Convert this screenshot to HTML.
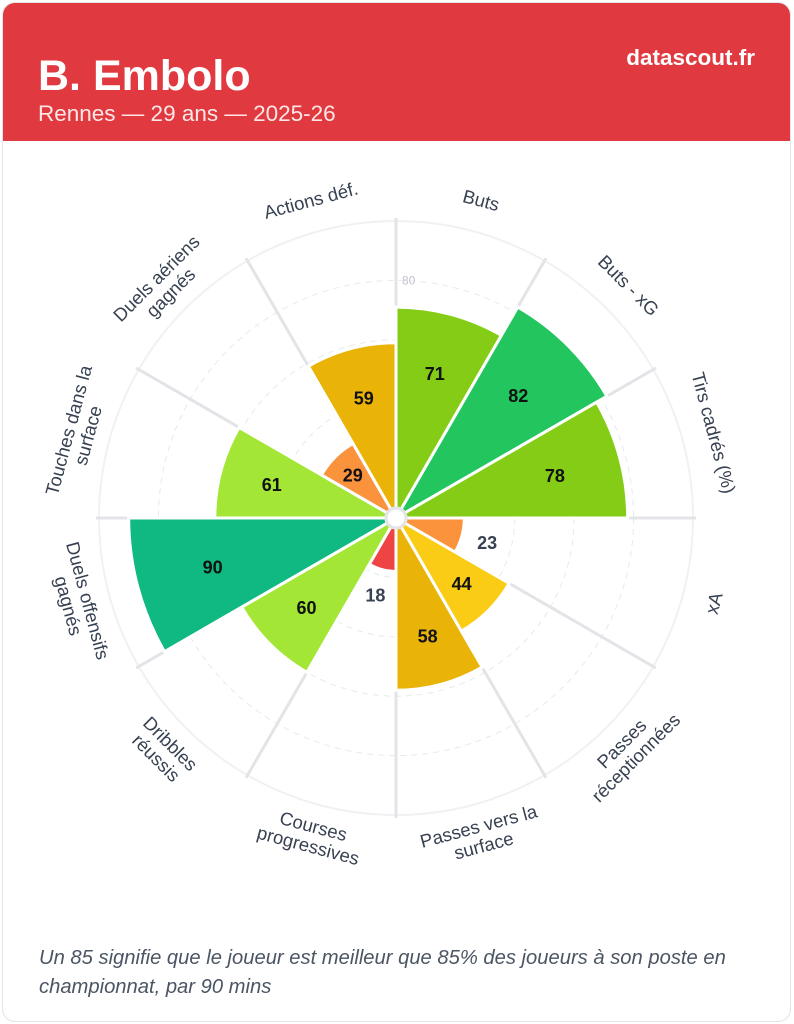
<!DOCTYPE html>
<html><head><meta charset="utf-8">
<style>
html,body{margin:0;padding:0;background:#fff;width:794px;height:1024px;overflow:hidden;font-family:"Liberation Sans",sans-serif;}
.card{position:absolute;left:2px;top:2px;width:787px;height:1018px;border:1px solid #e2e4e8;border-radius:13px;overflow:hidden;background:#fff;}
.header{position:absolute;left:0;top:0;width:100%;height:138px;background:#e0393f;}
.title{position:absolute;left:35px;top:49px;color:#fff;font-size:43px;font-weight:bold;}
.sub{position:absolute;left:35px;top:98px;color:#fde8e8;font-size:22.5px;}
.brand{position:absolute;right:35px;top:42px;color:#fff;font-size:22.5px;font-weight:bold;}
.foot{position:absolute;left:36px;top:941px;width:730px;color:#4b5563;font-size:20.2px;font-style:italic;line-height:29px;}
svg{position:absolute;left:0;top:0;}
</style></head><body>
<div class="card">
<div class="header">
<div class="title">B. Embolo</div>
<div class="sub">Rennes — 29 ans — 2025-26</div>
<div class="brand">datascout.fr</div>
</div>
<div class="foot">Un 85 signifie que le joueur est meilleur que 85% des joueurs à son poste en championnat, par 90 mins</div>
</div>
<svg id="chart" width="794" height="1024"></svg>
<script>
const categories=[["Buts"],["Buts - xG"],["Tirs cadrés (%)"],["xA"],["Passes","réceptionnées"],["Passes vers la","surface"],["Courses","progressives"],["Dribbles","réussis"],["Duels offensifs","gagnés"],["Touches dans la","surface"],["Duels aériens","gagnés"],["Actions déf."]];
const values=[71,82,78,23,44,58,18,60,90,61,29,59];
const gridTicks=[20,40,60,80];
const tickLabels=["","","","80"];

const NS="http://www.w3.org/2000/svg";
const svg=document.getElementById('chart');
const cx=396,cy=518,R=297,inner=10;
const rScale=v=>v/100*R;
function pt(r,deg){const a=(deg-90)*Math.PI/180;return [cx+r*Math.cos(a),cy+r*Math.sin(a)];}
function mk(tag,attrs){const e=document.createElementNS(NS,tag);for(const k in attrs)e.setAttribute(k,attrs[k]);svg.appendChild(e);return e;}
function color(v){if(v<20)return"#ef4444";if(v<40)return"#fb923c";if(v<50)return"#facc15";if(v<60)return"#eab308";if(v<70)return"#a3e635";if(v<80)return"#84cc16";if(v<90)return"#22c55e";return"#10b981";}
const n=categories.length,step=360/n;

let c=mk('circle',{cx:cx,cy:cy,r:R,fill:'none',stroke:'#f0f1f3','stroke-width':2});


gridTicks.forEach((t,i)=>{
  const g=mk('circle',{cx:cx,cy:cy,r:rScale(t),fill:'none',stroke:'#e8e9ec','stroke-width':1,'stroke-dasharray':'6,5'});
  
  
  if(tickLabels[i]){const [x,y]=pt(rScale(t),0);const tl=mk('text',{x:x+6,y:y+4,'font-size':12,fill:'#c0c4cc','font-family':'Liberation Sans'});tl.textContent=tickLabels[i];
  
  }
});
for(let i=0;i<n;i++){
  const [x1,y1]=pt(inner,i*step),[x2,y2]=pt(R+3,i*step);
  const l=mk('line',{x1:x1,y1:y1,x2:x2,y2:y2,stroke:'#e3e4e8','stroke-width':3});
  
  
}
values.forEach((v,i)=>{
  const a0=i*step,a1=(i+1)*step,r=rScale(v);
  const [ax,ay]=pt(r,a0),[bx,by]=pt(r,a1),[ix,iy]=pt(inner,a0),[jx,jy]=pt(inner,a1);
  const p=mk('path',{d:`M${ix},${iy} L${ax},${ay} A${r},${r} 0 0 1 ${bx},${by} L${jx},${jy} A${inner},${inner} 0 0 0 ${ix},${iy}Z`,fill:color(v),stroke:'#fff','stroke-width':3});
  
  
  const mid=a0+step/2;
  const outside=v<25;
  const lr=outside?r+26:r*0.71;
  const [tx,ty]=pt(lr,mid);
  const t=mk('text',{x:tx,y:ty+6.5,'text-anchor':'middle','font-size':18,'font-weight':'bold',fill:outside?'#374151':'#111','font-family':'Liberation Sans'});
  t.textContent=v;
  
  
  let rot=mid;if(mid>90&&mid<270)rot=mid-180;
  const lines=categories[i];
  const [lx,ly]=pt(329,mid);
  const g=mk('g',{transform:`translate(${lx},${ly}) rotate(${rot})`});
  
  
  lines.forEach((s,k)=>{
    const tt=document.createElementNS(NS,'text');
    tt.setAttribute('x',0);
    tt.setAttribute('y',(k-(lines.length-1)/2)*20+6.5);
    tt.setAttribute('text-anchor','middle');
    tt.setAttribute('font-size',18.5);
    tt.setAttribute('fill','#374151');
    tt.setAttribute('font-family','Liberation Sans');
    tt.textContent=s;
    g.appendChild(tt);
  });
});
const hub=mk('circle',{cx:cx,cy:cy,r:inner,fill:'#fff',stroke:'#e3e4e8','stroke-width':3});


</script>
</body></html>
